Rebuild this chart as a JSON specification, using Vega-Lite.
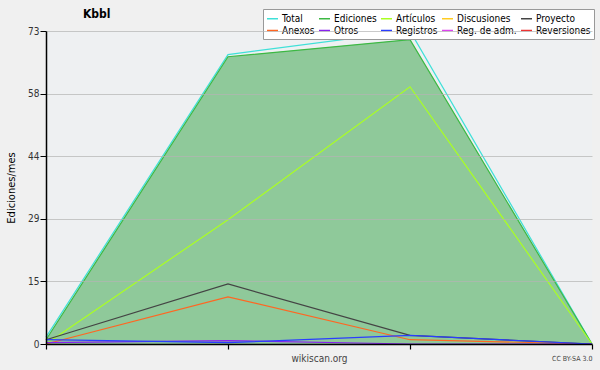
{
  "$schema": "https://vega.github.io/schema/vega-lite/v6.json",
  "width": 546,
  "height": 313,
  "autosize": {"type": "none"},
  "padding": {"left": 46, "top": 31, "right": 8, "bottom": 26},
  "background": "#f0f0f0",
  "config": {
    "font": "DejaVu Sans Condensed",
    "view": {"stroke": null, "fill": "#eef0f2"}
  },
  "title": {
    "text": "Kbbl",
    "anchor": "start",
    "frame": "group",
    "dx": 37,
    "offset": -12,
    "fontSize": 12,
    "fontWeight": "bold",
    "color": "#000000",
    "font": "DejaVu Sans Condensed"
  },
  "resolve": {"axis": {"x": "independent"}},
  "data": {
    "values": [
      {"serie": "Total", "x": 0, "v": 1.6},
      {"serie": "Total", "x": 1, "v": 67.5},
      {"serie": "Total", "x": 2, "v": 73},
      {"serie": "Total", "x": 3, "v": 0},
      {"serie": "Ediciones", "x": 0, "v": 1},
      {"serie": "Ediciones", "x": 1, "v": 67},
      {"serie": "Ediciones", "x": 2, "v": 71},
      {"serie": "Ediciones", "x": 3, "v": 0},
      {"serie": "Artículos", "x": 0, "v": 0},
      {"serie": "Artículos", "x": 1, "v": 29},
      {"serie": "Artículos", "x": 2, "v": 60},
      {"serie": "Artículos", "x": 3, "v": 0},
      {"serie": "Proyecto", "x": 0, "v": 1},
      {"serie": "Proyecto", "x": 1, "v": 14},
      {"serie": "Proyecto", "x": 2, "v": 2},
      {"serie": "Proyecto", "x": 3, "v": 0},
      {"serie": "Anexos", "x": 0, "v": 0},
      {"serie": "Anexos", "x": 1, "v": 11},
      {"serie": "Anexos", "x": 2, "v": 1},
      {"serie": "Anexos", "x": 3, "v": 0},
      {"serie": "Otros", "x": 0, "v": 0.3},
      {"serie": "Otros", "x": 1, "v": 0.8},
      {"serie": "Otros", "x": 2, "v": 0},
      {"serie": "Otros", "x": 3, "v": 0},
      {"serie": "Registros", "x": 0, "v": 1},
      {"serie": "Registros", "x": 1, "v": 0.3},
      {"serie": "Registros", "x": 2, "v": 2},
      {"serie": "Registros", "x": 3, "v": 0}
    ]
  },
  "layer": [
    {
      "transform": [{"filter": "datum.serie == 'Ediciones'"}],
      "mark": {"type": "area", "color": "#8fc99a", "opacity": 1},
      "encoding": {
        "x": {
          "field": "x",
          "type": "quantitative",
          "scale": {"domain": [0, 3], "nice": false},
          "axis": {
            "title": "wikiscan.org",
            "titleFontSize": 10,
            "titleFontWeight": "normal",
            "titleColor": "#444444",
            "titlePadding": 4,
            "values": [0, 1, 2, 3],
            "labels": false,
            "grid": false,
            "domainColor": "#000000",
            "domainWidth": 1.5,
            "tickColor": "#000000",
            "tickSize": 5,
            "tickWidth": 1.2,
            "zindex": 1
          }
        },
        "y": {
          "field": "v",
          "type": "quantitative",
          "scale": {"domain": [0, 73], "nice": false, "zero": true},
          "axis": {
            "title": "Ediciones/mes",
            "titleFontSize": 11,
            "titleFontWeight": "normal",
            "titleColor": "#000000",
            "titlePadding": 11,
            "values": [0, 3.65, 7.3, 10.95, 14.6, 18.25, 21.9, 25.55, 29.2, 32.85, 36.5, 40.15, 43.8, 47.45, 51.1, 54.75, 58.4, 62.05, 65.7, 69.35, 73],
            "labelExpr": "round(datum.value / 3.65) % 4 == 0 ? toString(round(datum.value)) : ''",
            "labelFontSize": 10,
            "labelColor": "#333333",
            "labelPadding": 1,
            "domainColor": "#000000",
            "domainWidth": 1.5,
            "tickColor": "#000000",
            "tickSize": {"condition": {"test": "round(datum.value / 3.65) % 4 == 0", "value": 6}, "value": 3},
            "gridColor": "#b4b4b4",
            "gridOpacity": {"condition": {"test": "round(datum.value / 3.65) % 4 == 0 && datum.value > 0", "value": 0.7}, "value": 0},
            "zindex": 1
          }
        }
      }
    },
    {
      "mark": {"type": "line", "strokeWidth": 1.2},
      "encoding": {
        "x": {
          "field": "x",
          "type": "quantitative",
          "axis": {
            "orient": "bottom",
            "title": "CC BY-SA 3.0",
            "titleAnchor": "end",
            "titleFontSize": 7,
            "titleFontWeight": "normal",
            "titleColor": "#444444",
            "titleY": 10,
            "offset": 0,
            "labels": false,
            "ticks": false,
            "domain": false,
            "grid": false
          }
        },
        "y": {"field": "v", "type": "quantitative"},
        "color": {
          "field": "serie",
          "type": "nominal",
          "scale": {
            "domain": ["Total", "Ediciones", "Artículos", "Discusiones", "Proyecto", "Anexos", "Otros", "Registros", "Reg. de adm.", "Reversiones"],
            "range": ["#3fe0d8", "#3cb843", "#aaff22", "#ffcc22", "#444444", "#ff6622", "#8822ee", "#2a3dff", "#dd44ee", "#ee3333"]
          },
          "legend": {
            "title": null,
            "orient": "none",
            "legendX": 217,
            "legendY": -22,
            "direction": "horizontal",
            "columns": 5,
            "symbolType": "stroke",
            "symbolSize": 120,
            "symbolStrokeWidth": 1.5,
            "labelFontSize": 10,
            "labelFont": "DejaVu Sans Condensed",
            "labelColor": "#000000",
            "labelOffset": 3,
            "rowPadding": 0,
            "columnPadding": 1,
            "padding": 3,
            "fillColor": "#ffffff",
            "strokeColor": "#999999"
          }
        },
        "order": {"field": "x"}
      }
    }
  ]
}
